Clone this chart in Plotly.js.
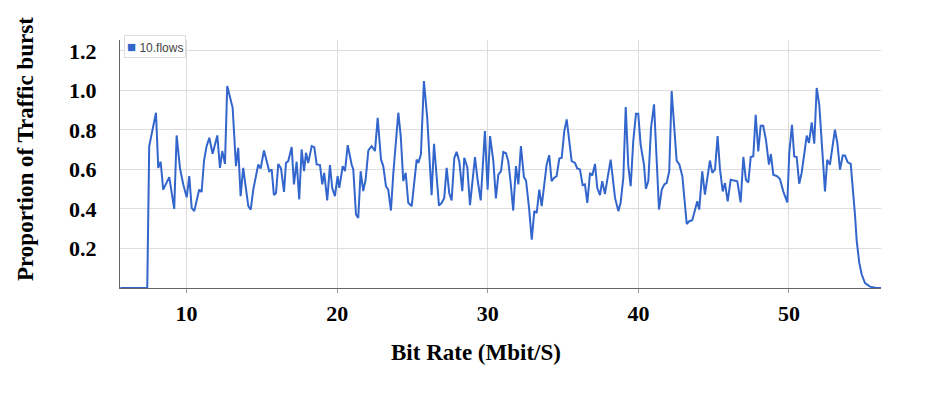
<!DOCTYPE html>
<html>
<head>
<meta charset="utf-8">
<script src="https://cdn.plot.ly/plotly-3.0.1.min.js"></script>
<style>
  html, body { margin: 0; padding: 0; background: #ffffff; }
  #chart { width: 936px; height: 395px; }
</style>
</head>
<body>
<div id="chart"></div>
<script>
// Bit rate (Mbit/S) sample positions
const bitRate = [
  5.6, 7.39, 7.52, 7.97, 8.12, 8.28, 8.45, 8.68, 8.85, 9.18,
  9.34, 9.56, 9.78, 10.01, 10.18, 10.34, 10.51, 10.84, 11.0, 11.16,
  11.33, 11.51, 11.73, 12.04, 12.22, 12.37, 12.55, 12.70, 13.06, 13.28,
  13.43, 13.59, 13.76, 14.10, 14.26, 14.43, 14.76, 14.92, 15.14, 15.49,
  15.65, 15.80, 15.94, 16.09, 16.27, 16.47, 16.60, 16.75, 16.98, 17.13,
  17.31, 17.48, 17.64, 17.80, 17.93, 18.08, 18.31, 18.48, 18.64, 18.86,
  19.01, 19.14, 19.34, 19.52, 19.67, 19.85, 20.03, 20.14, 20.37, 20.52,
  20.70, 20.96, 21.07, 21.25, 21.40, 21.56, 21.73, 21.89, 22.07, 22.29,
  22.51, 22.69, 22.91, 23.06, 23.24, 23.39, 23.57, 23.73, 24.06, 24.22,
  24.39, 24.55, 24.72, 24.95, 25.28, 25.39, 25.56, 25.76, 25.98, 26.27,
  26.43, 26.76, 26.94, 27.11, 27.27, 27.44, 27.60, 27.78, 27.93, 28.11,
  28.31, 28.44, 28.64, 28.82, 28.97, 29.15, 29.33, 29.53, 29.81, 29.99,
  30.15, 30.37, 30.54, 30.70, 30.88, 31.03, 31.21, 31.36, 31.52, 31.69,
  31.87, 32.03, 32.20, 32.40, 32.54, 32.74, 32.92, 33.09, 33.25, 33.42,
  33.58, 33.91, 34.08, 34.24, 34.40, 34.57, 34.75, 34.91, 35.08, 35.24,
  35.57, 35.79, 35.94, 36.12, 36.30, 36.45, 36.61, 36.79, 36.94, 37.12,
  37.27, 37.45, 37.60, 37.78, 38.16, 38.45, 38.67, 38.82, 39.00, 39.16,
  39.33, 39.49, 39.66, 39.84, 39.99, 40.15, 40.37, 40.50, 40.66, 40.84,
  41.04, 41.22, 41.37, 41.55, 41.72, 41.88, 42.05, 42.21, 42.54, 42.72,
  42.92, 43.21, 43.38, 43.58, 43.76, 43.91, 44.04, 44.24, 44.42, 44.75,
  44.91, 45.09, 45.26, 45.42, 45.60, 45.75, 45.93, 46.13, 46.57, 46.79,
  46.97, 47.14, 47.30, 47.46, 47.63, 47.79, 47.96, 48.12, 48.29, 48.47,
  48.67, 48.80, 48.96, 49.22, 49.40, 49.62, 49.89, 50.02, 50.20, 50.35,
  50.51, 50.68, 50.84, 51.00, 51.18, 51.33, 51.51, 51.68, 51.84, 52.01,
  52.39, 52.54, 52.72, 53.05, 53.21, 53.39, 53.57, 53.72, 53.90, 54.10,
  54.23, 54.38, 54.50, 54.67, 54.83, 55.05, 55.38, 55.82, 56.15
];

// Proportion of traffic burst, series "10.flows"
const burst10flows = [
  0, 0, 0.718, 0.887, 0.608, 0.639, 0.498, 0.532, 0.561, 0.40,
  0.772, 0.608, 0.524, 0.459, 0.566, 0.405, 0.389, 0.498, 0.486, 0.645,
  0.718, 0.76, 0.679, 0.772, 0.608, 0.693, 0.628, 1.022, 0.912, 0.617,
  0.709, 0.465, 0.608, 0.414, 0.397, 0.498, 0.625, 0.605, 0.696, 0.591,
  0.60, 0.47, 0.481, 0.628, 0.605, 0.486, 0.633, 0.642, 0.713, 0.524,
  0.639, 0.448, 0.701, 0.591, 0.684, 0.633, 0.718, 0.713, 0.625, 0.622,
  0.524, 0.583, 0.443, 0.622, 0.507, 0.465, 0.566, 0.507, 0.617, 0.591,
  0.723, 0.625, 0.60, 0.372, 0.355, 0.591, 0.49, 0.549, 0.696, 0.718,
  0.693, 0.861, 0.65, 0.617, 0.515, 0.498, 0.392, 0.583, 0.887, 0.769,
  0.541, 0.583, 0.431, 0.414, 0.65, 0.633, 0.676, 1.047, 0.861, 0.47,
  0.73, 0.417, 0.431, 0.456, 0.608, 0.481, 0.443, 0.659, 0.689, 0.639,
  0.49, 0.659, 0.611, 0.419, 0.549, 0.662, 0.544, 0.443, 0.794, 0.498,
  0.769, 0.642, 0.453, 0.574, 0.591, 0.688, 0.682, 0.642, 0.532, 0.392,
  0.617, 0.524, 0.718, 0.561, 0.544, 0.405, 0.245, 0.389, 0.38, 0.498,
  0.414, 0.625, 0.672, 0.541, 0.557, 0.566, 0.655, 0.659, 0.794, 0.853,
  0.642, 0.633, 0.605, 0.60, 0.52, 0.524, 0.431, 0.583, 0.569, 0.628,
  0.507, 0.47, 0.541, 0.476, 0.65, 0.456, 0.389, 0.431, 0.557, 0.916,
  0.617, 0.515, 0.743, 0.882, 0.882, 0.726, 0.625, 0.502, 0.541, 0.811,
  0.929, 0.676, 0.397, 0.498, 0.524, 0.532, 0.591, 0.997, 0.645, 0.625,
  0.566, 0.324, 0.338, 0.343, 0.397, 0.439, 0.397, 0.591, 0.473, 0.645,
  0.583, 0.60, 0.769, 0.60, 0.489, 0.531, 0.438, 0.548, 0.54, 0.433,
  0.663, 0.548, 0.534, 0.663, 0.667, 0.877, 0.691, 0.821, 0.821, 0.75,
  0.624, 0.678, 0.573, 0.565, 0.552, 0.489, 0.433, 0.683, 0.826, 0.666,
  0.663, 0.528, 0.582, 0.683, 0.771, 0.734, 0.838, 0.73, 1.012, 0.928,
  0.489, 0.649, 0.624, 0.801, 0.734, 0.599, 0.67, 0.67, 0.636, 0.628,
  0.523, 0.372, 0.236, 0.127, 0.068, 0.025, 0.007, 0, 0
];

const seriesName = "10.flows";
const xTickVals = [10, 20, 30, 40, 50];
const xTickText = ["10", "20", "30", "40", "50"];
const yTickVals = [0.2, 0.4, 0.6, 0.8, 1.0, 1.2];
const yTickText = ["0.2", "0.4", "0.6", "0.8", "1.0", "1.2"];
const xTitle = "Bit Rate (Mbit/S)";
const yTitle = "Proportion of Traffic burst";

const lineColor = "#3366cc";
const serif = "Liberation Serif, Times New Roman, serif";

const trace = {
  x: bitRate,
  y: burst10flows,
  type: "scatter",
  mode: "lines",
  name: seriesName,
  line: { color: lineColor, width: 2 },
  showlegend: false,
  hoverinfo: "x+y"
};

const layout = {
  width: 936,
  height: 395,
  margin: { l: 120, r: 55, t: 40, b: 107, pad: 0 },
  paper_bgcolor: "#ffffff",
  plot_bgcolor: "#ffffff",
  showlegend: false,
  xaxis: {
    range: [5.58, 56.11],
    tickvals: xTickVals,
    ticktext: xTickText,
    showgrid: true,
    gridcolor: "#dddddd",
    gridwidth: 1,
    zeroline: false,
    showline: true,
    linecolor: "#666666",
    linewidth: 1,
    ticks: "outside",
    ticklen: 4,
    tickcolor: "#999999",
    ticklabelstandoff: 2,
    tickfont: { family: serif, size: 22, color: "#000000", weight: "bold" }
  },
  yaxis: {
    range: [0, 1.255],
    tickvals: yTickVals,
    ticktext: yTickText,
    showgrid: true,
    gridcolor: "#dddddd",
    gridwidth: 1,
    zeroline: false,
    showline: true,
    linecolor: "#666666",
    linewidth: 1,
    ticks: "",
    ticklabelstandoff: 18,
    tickfont: { family: serif, size: 22, color: "#000000", weight: "bold" }
  },
  annotations: [
    {
      xref: "paper", yref: "paper",
      x: (476 - 120) / 761, y: -(352 - 288) / 248,
      xanchor: "center", yanchor: "middle",
      text: xTitle, showarrow: false,
      font: { family: serif, size: 23, color: "#000000", weight: "bold" }
    },
    {
      xref: "paper", yref: "paper",
      x: -(120 - 25) / 761, y: (288 - 149) / 248,
      xanchor: "center", yanchor: "middle",
      textangle: -90,
      text: yTitle, showarrow: false,
      font: { family: serif, size: 23, color: "#000000", weight: "bold" }
    },
    {
      xref: "paper", yref: "paper",
      x: (124 - 120) / 761, y: (288 - 35) / 248,
      xanchor: "left", yanchor: "top",
      text: '<span style="color:' + lineColor + ';font-size:15px">■</span> ' + seriesName,
      showarrow: false,
      bgcolor: "#ffffff",
      bordercolor: "#dddddd",
      borderwidth: 1,
      borderpad: 2,
      font: { family: "Liberation Sans, Arial, sans-serif", size: 12, color: "#444444" }
    }
  ]
};

Plotly.newPlot("chart", [trace], layout, { displayModeBar: false, staticPlot: true });
</script>
</body>
</html>
